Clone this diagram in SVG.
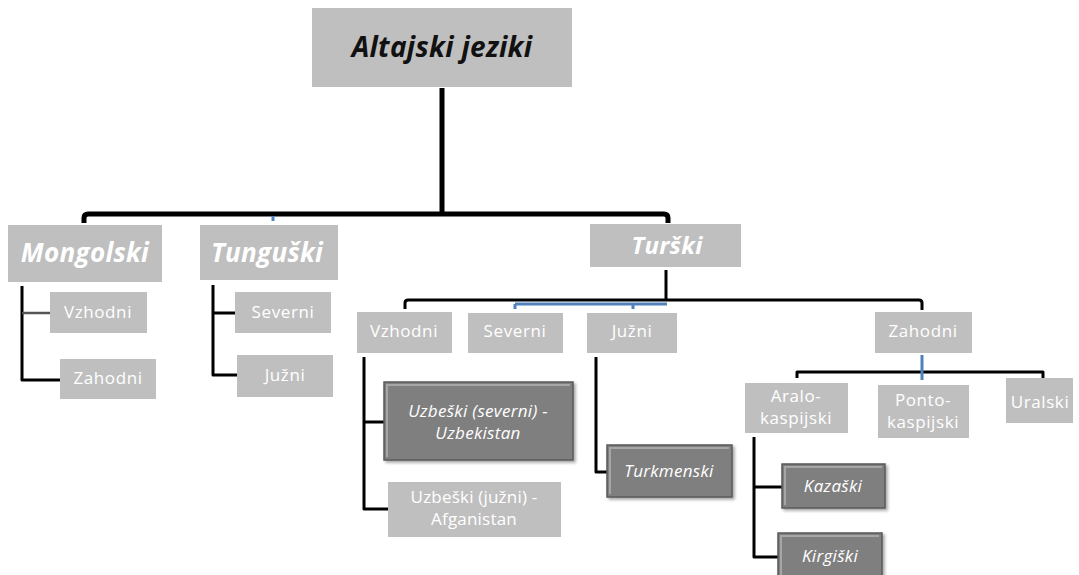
<svg xmlns="http://www.w3.org/2000/svg" width="1079" height="575" viewBox="0 0 1079 575">
<defs>
<style>
.box{fill:#bfbfbf}
.dark{fill:#7f7f7f;stroke:#5a5a5a;stroke-width:1.5}
.hi{fill:none;stroke:#a6a6a6;stroke-width:2}
.t{font-family:"Open Sans","Liberation Sans",sans-serif;fill:#ffffff;text-anchor:middle;font-size:17px;letter-spacing:0.6px}
.ti{font-style:italic;letter-spacing:0.3px}
.big{font-weight:bold;font-style:italic;font-size:26px;letter-spacing:0.3px}
.ln{fill:none;stroke:#000;stroke-width:3;stroke-linejoin:round}
.thick{stroke-width:5}
.blue{fill:none;stroke:#4f81bd;stroke-width:3}
</style>
<filter id="sh" x="-10%" y="-10%" width="130%" height="140%">
<feDropShadow dx="2" dy="2" stdDeviation="1.5" flood-color="#000" flood-opacity="0.35"/>
</filter>
</defs>

<g id="connectors">
<path class="ln thick" d="M442 88 V214"/>
<path class="ln thick" d="M84 223 V218 Q84 214 88 214 H664 Q668 214 668 218 V223"/>
<path class="blue" d="M273 216 V221"/>
<path class="ln" d="M22 286 V380 H60"/>
<path d="M22 313 H50" fill="none" stroke="#555" stroke-width="2.5"/>
<path class="ln" d="M213 285 V375 H237"/>
<path class="ln" d="M213 313 H235"/>
<path class="ln" d="M666 270 V300"/>
<path class="blue" d="M515 304 H667 M515 304 V309 M633 304 V309"/>
<path class="ln" d="M405 309 V303 Q405 300 408 300 H919 Q922 300 922 303 V310"/>
<path class="ln" d="M364 357 V509 H388"/>
<path class="ln" d="M364 422 H384"/>
<path class="ln" d="M596 357 V472 H607"/>
<path class="ln" d="M797 378 V372 H1043 V378"/>
<path class="blue" d="M922 355 V380"/>
<path class="ln" d="M754 437 V557 H778"/>
<path class="ln" d="M754 487 H782"/>
</g>

<g id="n-root">
<rect class="box" x="312" y="8" width="260" height="79"/>
<text class="t big" x="442" y="57" style="fill:#111;font-size:28px">Altajski jeziki</text>
</g>

<g id="n-mongolski">
<rect class="box" x="8" y="225" width="154" height="57"/>
<text class="t big" x="85" y="262">Mongolski</text>
</g>
<g id="n-mong-vzhodni">
<rect class="box" x="50" y="292" width="97" height="41"/>
<text class="t" x="98" y="318">Vzhodni</text>
</g>
<g id="n-mong-zahodni">
<rect class="box" x="60" y="359" width="96" height="40"/>
<text class="t" x="108" y="384">Zahodni</text>
</g>

<g id="n-tunguski">
<rect class="box" x="200" y="225" width="138" height="55"/>
<text class="t big" x="267" y="262">Tunguški</text>
</g>
<g id="n-tung-severni">
<rect class="box" x="235" y="292" width="96" height="41"/>
<text class="t" x="283" y="318">Severni</text>
</g>
<g id="n-tung-juzni">
<rect class="box" x="237" y="355" width="96" height="42"/>
<text class="t" x="285" y="381">Južni</text>
</g>

<g id="n-turski">
<rect class="box" x="590" y="224" width="151" height="43"/>
<text class="t big" x="667" y="254" style="font-size:24px">Turški</text>
</g>

<g id="n-tur-vzhodni">
<rect class="box" x="357" y="312" width="95" height="41"/>
<text class="t" x="404" y="337">Vzhodni</text>
</g>
<g id="n-tur-severni">
<rect class="box" x="468" y="313" width="95" height="40"/>
<text class="t" x="515" y="337">Severni</text>
</g>
<g id="n-tur-juzni">
<rect class="box" x="587" y="313" width="90" height="40"/>
<text class="t" x="632" y="337">Južni</text>
</g>
<g id="n-tur-zahodni">
<rect class="box" x="875" y="312" width="97" height="41"/>
<text class="t" x="923" y="337">Zahodni</text>
</g>

<g id="n-uzb-severni">
<rect class="dark" x="384" y="382" width="189" height="78" filter="url(#sh)"/>
<path class="hi" d="M387 457 V385 H570"/>
<text class="t ti" x="478" y="417">Uzbeški (severni) -</text>
<text class="t ti" x="478" y="439">Uzbekistan</text>
</g>
<g id="n-uzb-juzni">
<rect class="box" x="388" y="482" width="173" height="55"/>
<text class="t" x="474" y="503" style="letter-spacing:0.2px">Uzbeški (južni) -</text>
<text class="t" x="474" y="525" style="letter-spacing:0.2px">Afganistan</text>
</g>

<g id="n-turkmenski">
<rect class="dark" x="607" y="445" width="125" height="52" filter="url(#sh)"/>
<path class="hi" d="M610 494 V448 H729"/>
<text class="t ti" x="669" y="477">Turkmenski</text>
</g>

<g id="n-aralo">
<rect class="box" x="745" y="383" width="103" height="50"/>
<text class="t" x="796" y="402">Aralo-</text>
<text class="t" x="796" y="424">kaspijski</text>
</g>
<g id="n-ponto">
<rect class="box" x="878" y="385" width="91" height="53"/>
<text class="t" x="923" y="406">Ponto-</text>
<text class="t" x="923" y="428">kaspijski</text>
</g>
<g id="n-uralski">
<rect class="box" x="1006" y="378" width="67" height="45"/>
<text class="t" x="1040" y="408">Uralski</text>
</g>

<g id="n-kazaski">
<rect class="dark" x="782" y="464" width="103" height="44" filter="url(#sh)"/>
<path class="hi" d="M785 505 V467 H882"/>
<text class="t ti" x="833" y="492">Kazaški</text>
</g>
<g id="n-kirgiski">
<rect class="dark" x="778" y="533" width="104" height="45" filter="url(#sh)"/>
<path class="hi" d="M781 575 V536 H879"/>
<text class="t ti" x="830" y="562">Kirgiški</text>
</g>
</svg>
